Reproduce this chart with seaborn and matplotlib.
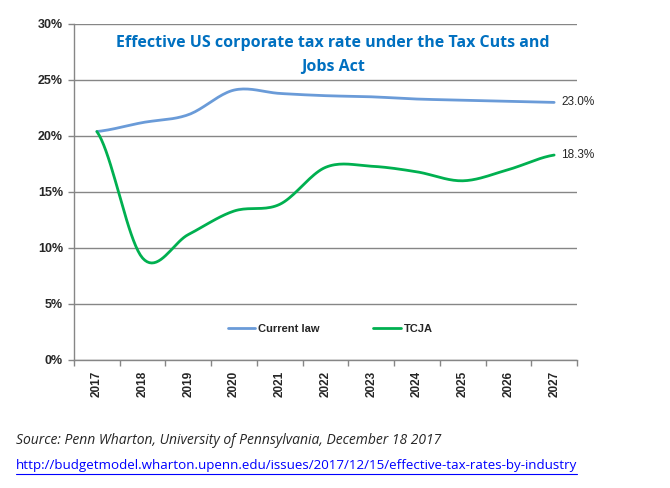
import numpy as np
import pandas as pd
import matplotlib
matplotlib.use("Agg")
import matplotlib.pyplot as plt
import seaborn as sns

years = ["2017", "2018", "2019", "2020", "2021", "2022", "2023", "2024", "2025", "2026", "2027"]
current_law = [20.4, 21.2, 21.9, 24.1, 23.8, 23.6, 23.5, 23.3, 23.2, 23.1, 23.0]
tcja = [20.4, 9.1, 11.2, 13.3, 13.9, 17.2, 17.3, 16.8, 16.0, 17.0, 18.3]
y_ticks = [0, 5, 10, 15, 20, 25, 30]

sns.set_theme(style="white")
plt.rcParams['font.family'] = ['Liberation Sans', 'DejaVu Sans']

def smooth(xs, ys, n=20):
    # Catmull-Rom style smoothing (like Excel smoothed lines)
    xs = np.asarray(xs, float); ys = np.asarray(ys, float)
    px = np.concatenate([[2*xs[0]-xs[1]], xs, [2*xs[-1]-xs[-2]]])
    py = np.concatenate([[ys[0]], ys, [ys[-1]]])
    ox, oy = [], []
    for i in range(1, len(px)-2):
        p0, p1, p2, p3 = [np.array([px[j], py[j]]) for j in (i-1, i, i+1, i+2)]
        c1 = p1 + (p2 - p0) / 6.0
        c2 = p2 - (p3 - p1) / 6.0
        t = np.linspace(0, 1, n, endpoint=(i == len(px)-3))
        pts = ((1-t)**3)[:, None]*p1 + (3*(1-t)**2*t)[:, None]*c1 + (3*(1-t)*t**2)[:, None]*c2 + (t**3)[:, None]*p2
        ox.extend(pts[:, 0]); oy.extend(pts[:, 1])
    return np.array(ox), np.array(oy)

fig = plt.figure(figsize=(6.7, 4.88), dpi=100)
ax = fig.add_axes([74/670, 1-360/488, 503/670, 336/488])

xpos = np.arange(len(years))
blue = "#6A9BD8"
green = "#00B050"
sx, sy = smooth(xpos, current_law)
df1 = pd.DataFrame({"x": sx, "y": sy})
sns.lineplot(data=df1, x="x", y="y", ax=ax, color=blue, lw=2, sort=False, label="Current law")
sx, sy = smooth(xpos, tcja)
df2 = pd.DataFrame({"x": sx, "y": sy})
sns.lineplot(data=df2, x="x", y="y", ax=ax, color=green, lw=2, sort=False, label="TCJA")

ax.set_xlim(-0.5, len(years)-0.5)
ax.set_ylim(0, 30)
ax.set_yticks(y_ticks)
ax.set_yticklabels([f"{v}%" for v in y_ticks], fontsize=9, fontweight="bold")
ax.set_xticks(xpos)
ax.set_xticklabels(years, rotation=90, fontsize=8.5, fontweight="bold")
ax.tick_params(axis="x", length=0, pad=8)
ax.set_xticks(np.arange(-0.5, len(years)), minor=True)
ax.tick_params(axis="x", which="minor", length=4, color="#868686", width=1, direction="out", bottom=True)
ax.tick_params(axis="y", length=4, color="#868686", width=1, direction="out", left=True, pad=4)
ax.set_xlabel(""); ax.set_ylabel("")
ax.grid(axis="y", color="#868686", lw=1)
for s in ["top", "right"]:
    ax.spines[s].set_visible(False)
ax.spines["left"].set_color("#868686")
ax.spines["bottom"].set_color("#868686")
ax.spines["left"].set_linewidth(1)
ax.spines["bottom"].set_linewidth(1)

ax.text(len(years)-1 + 0.15, current_law[-1], f"{current_law[-1]:.1f}%", fontsize=8.5, va="center", ha="left", clip_on=False)
ax.text(len(years)-1 + 0.15, tcja[-1], f"{tcja[-1]:.1f}%", fontsize=8.5, va="center", ha="left", clip_on=False)

fig.text(333/670, 1-55/488, "Effective US corporate tax rate under the Tax Cuts and\nJobs Act",
         ha="center", va="center", color="#0070C0", fontsize=11.5, fontweight="bold",
         family=["Open Sans", "DejaVu Sans"], linespacing=1.6)

leg = ax.legend(loc="center", bbox_to_anchor=((330-74)/503, (360-329)/336), ncol=2, frameon=False,
                handlelength=2.5, handletextpad=0.2, columnspacing=4.9,
                prop={"weight": "bold", "size": 8})

fig.text(16/670, 1-441/488, "Source: Penn Wharton, University of Pennsylvania, December 18 2017",
         fontsize=10, style="italic", va="center", ha="left", family=["Open Sans", "DejaVu Sans"])
fig.text(16/670, 1-466/488, "http://budgetmodel.wharton.upenn.edu/issues/2017/12/15/effective-tax-rates-by-industry",
         fontsize=9.65, color="#0000FF", va="center", ha="left", family=["Open Sans", "DejaVu Sans"])
# underline
fig.add_artist(plt.Line2D([16/670, 577/670], [1-474/488, 1-474/488], color="#0000FF", lw=0.8))

fig.savefig("out.png", dpi=100)
